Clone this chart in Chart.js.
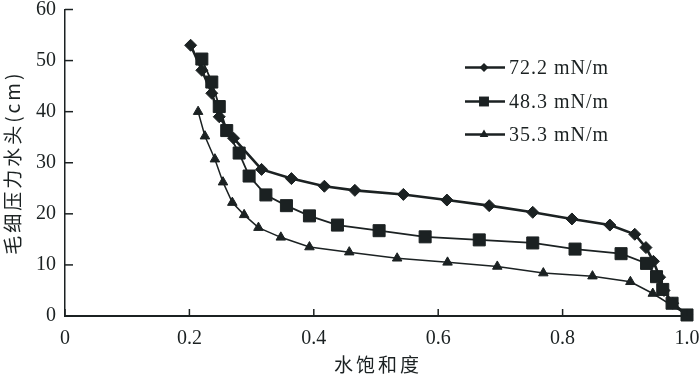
<!DOCTYPE html>
<html>
<head>
<meta charset="utf-8">
<script src="https://cdn.jsdelivr.net/npm/chart.js"></script>
<style>
    html, body { margin: 0; padding: 0; background: #fff; }
    #wrap { width: 700px; height: 375px; }
</style>
</head>
<body>
<div id="wrap"><canvas id="capChart" width="700" height="375"></canvas></div>
<script>
// --- データ ---
const seriesNames = ['72.2 mN/m', '48.3 mN/m', '35.3 mN/m'];

const sat72 = [0.202, 0.220, 0.236, 0.248, 0.271, 0.316, 0.364, 0.417, 0.466, 0.544, 0.614, 0.682, 0.752, 0.815, 0.876, 0.916, 0.934, 0.946, 0.956, 0.963, 0.977, 1.0];
const head72 = [53.0, 48.1, 43.6, 39.0, 34.8, 28.7, 26.9, 25.4, 24.6, 23.8, 22.7, 21.6, 20.3, 19.0, 17.8, 16.0, 13.4, 10.7, 7.6, 5.0, 2.5, 0.2];

const sat48 = [0.220, 0.236, 0.248, 0.260, 0.280, 0.296, 0.323, 0.356, 0.393, 0.438, 0.505, 0.579, 0.666, 0.752, 0.820, 0.894, 0.935, 0.951, 0.961, 0.976, 1.0];
const head48 = [50.3, 45.8, 41.0, 36.3, 31.9, 27.4, 23.7, 21.6, 19.6, 17.8, 16.7, 15.5, 14.9, 14.3, 13.1, 12.2, 10.3, 7.7, 5.2, 2.5, 0.2];

const sat35 = [0.214, 0.225, 0.241, 0.254, 0.269, 0.288, 0.311, 0.347, 0.393, 0.457, 0.534, 0.615, 0.695, 0.769, 0.848, 0.909, 0.945, 1.0];
const head35 = [40.0, 35.2, 30.7, 26.2, 22.2, 19.8, 17.3, 15.4, 13.5, 12.5, 11.3, 10.5, 9.7, 8.4, 7.8, 6.7, 4.4, 0.2];

const xTickLabels = ['0', '0.2', '0.4', '0.6', '0.8', '1.0'];
const yTickLabels = ['0', '10', '20', '30', '40', '50', '60'];
const xTitle = '水饱和度';
const yTitle = '毛细压力水头(cm)';

const ink = '#1b2122';
const serif = '"Liberation Serif", "DejaVu Serif", serif';
const cjk = '"Noto Sans CJK SC", "Noto Sans", sans-serif';

function toPoints(xs, ys) {
    return xs.map((x, i) => ({ x: x, y: ys[i] }));
}

// --- 目盛り（内向き）・軸タイトル・凡例 ---
const decorPlugin = {
    id: 'decor',
    afterDraw(chart) {
        const ctx = chart.ctx;
        const xs = chart.scales.x;
        const ys = chart.scales.y;
        const area = chart.chartArea;
        ctx.save();
        ctx.strokeStyle = ink;
        ctx.lineWidth = 1.5;
        // 内向きの目盛り
        xs.ticks.forEach(t => {
            const px = xs.getPixelForValue(t.value);
            ctx.beginPath();
            ctx.moveTo(px, area.bottom);
            ctx.lineTo(px, area.bottom - 7);
            ctx.stroke();
        });
        ys.ticks.forEach(t => {
            const py = ys.getPixelForValue(t.value);
            ctx.beginPath();
            ctx.moveTo(area.left, py);
            ctx.lineTo(area.left + 8, py);
            ctx.stroke();
        });

        // 軸タイトル
        ctx.fillStyle = ink;
        ctx.font = '19px ' + cjk;
        ctx.letterSpacing = '3px';
        ctx.textAlign = 'center';
        ctx.textBaseline = 'middle';
        ctx.fillText(xTitle, (area.left + area.right) / 2 + 2, 365);
        ctx.save();
        ctx.translate(13, (area.top + area.bottom) / 2);
        ctx.rotate(-Math.PI / 2);
        ctx.fillText(yTitle, 0, 0);
        ctx.restore();

        // 凡例
        ctx.letterSpacing = '1px';
        ctx.font = '20px ' + serif;
        ctx.textAlign = 'left';
        const lx = area.left + 400;
        const rowY = [area.top + 58, area.top + 92, area.top + 125];
        chart.data.datasets.forEach((ds, i) => {
            const y = rowY[i];
            ctx.strokeStyle = ink;
            ctx.lineWidth = 2.6;
            ctx.beginPath();
            ctx.moveTo(lx, y);
            ctx.lineTo(lx + 40, y);
            ctx.stroke();
            ctx.fillStyle = ink;
            Chart.helpers.drawPoint(ctx, {
                pointStyle: ds.pointStyle,
                radius: ds.legendRadius,
                rotation: 0,
                borderWidth: 0
            }, lx + 19, y);
            ctx.fillStyle = ink;
            ctx.fillText(seriesNames[i], lx + 44, y + 1);
        });
        ctx.restore();
    }
};

const ctx = document.getElementById('capChart').getContext('2d');
const capChart = new Chart(ctx, {
    type: 'line',
    data: {
        datasets: [
            {
                label: seriesNames[0],
                data: toPoints(sat72, head72),
                borderColor: ink,
                backgroundColor: ink,
                borderWidth: 2.6,
                pointStyle: 'rectRot',
                pointRadius: 6,
                pointBorderWidth: 1,
                legendRadius: 4.5,
                clip: false,
                order: 1
            },
            {
                label: seriesNames[1],
                data: toPoints(sat48, head48),
                borderColor: ink,
                backgroundColor: ink,
                borderWidth: 1.8,
                pointStyle: 'rect',
                pointRadius: 8.5,
                pointBorderWidth: 1,
                legendRadius: 7,
                clip: false,
                order: 0
            },
            {
                label: seriesNames[2],
                data: toPoints(sat35, head35),
                borderColor: ink,
                backgroundColor: ink,
                borderWidth: 1.5,
                pointStyle: 'triangle',
                pointRadius: 5.5,
                pointBorderWidth: 1,
                legendRadius: 5,
                clip: false,
                order: 2
            }
        ]
    },
    options: {
        responsive: false,
        animation: false,
        events: [],
        layout: { padding: { top: 7, right: 13, left: 0, bottom: 0 } },
        plugins: {
            legend: { display: false },
            tooltip: { enabled: false }
        },
        elements: { line: { tension: 0 } },
        scales: {
            x: {
                type: 'linear',
                min: 0,
                max: 1,
                ticks: {
                    stepSize: 0.2,
                    padding: 11,
                    color: ink,
                    font: { family: serif, size: 20 },
                    maxRotation: 0,
                    callback: (v, i) => xTickLabels[i]
                },
                grid: { display: true, drawOnChartArea: false, drawTicks: false },
                border: { color: ink, width: 2 },
                afterFit: (s) => {
                    s.height = 59;
                    s.paddingLeft = 0;
                    s.paddingRight = 0;
                }
            },
            y: {
                min: 0,
                max: 60,
                ticks: {
                    stepSize: 10,
                    padding: 9,
                    color: ink,
                    font: { family: serif, size: 20 },
                    callback: (v, i) => yTickLabels[i]
                },
                grid: { display: true, drawOnChartArea: false, drawTicks: false },
                border: { color: ink, width: 1.5 },
                afterFit: (s) => {
                    s.width = 65;
                    s.paddingTop = 0;
                    s.paddingBottom = 0;
                }
            }
        }
    },
    plugins: [decorPlugin]
});
</script>
</body>
</html>
